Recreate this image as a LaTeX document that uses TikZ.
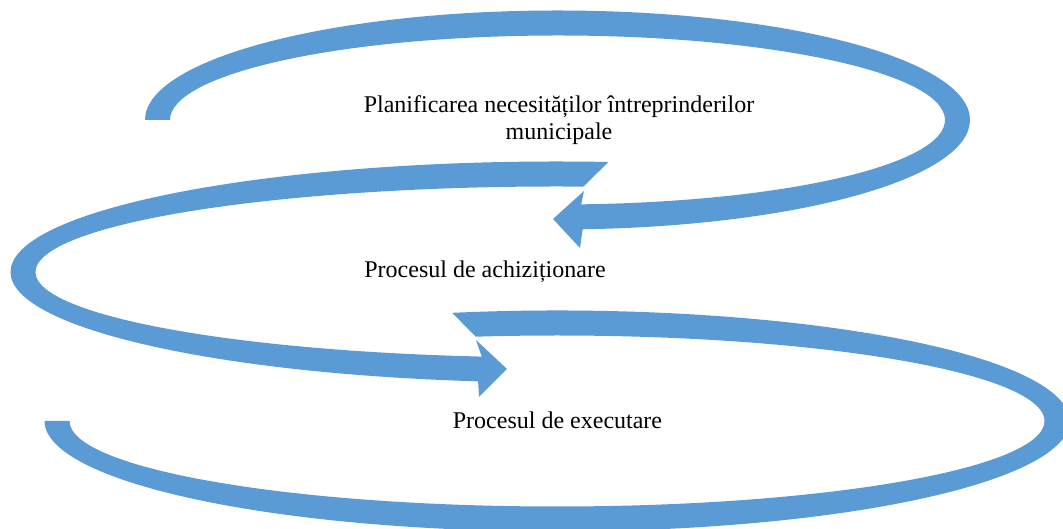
\documentclass[tikz,border=0pt]{standalone}
\usepackage{fontspec}
\setmainfont{Liberation Serif}
\definecolor{arrowblue}{RGB}{91,155,213}
\begin{document}
\begin{tikzpicture}[x=1pt,y=1pt,
  band/.style={fill=arrowblue, draw=none},
  txt/.style={inner sep=0pt, font=\fontsize{24}{27}\selectfont, align=center, text=black}]
\useasboundingbox (0,0) rectangle (1063,529);
\clip (0,0) rectangle (1063,529);
\coordinate (c1) at (557.5,409);
\coordinate (c2) at (557,257);
\coordinate (c3) at (557,108);
% arrow 1 (top)
\begin{scope}[shift={(c1)}]
\fill[band] (180:412.5 and 109.5) arc[start angle=180, end angle=-86.5, x radius=412.5, y radius=109.5]
  -- (22.5,-128) -- (-4.5,-99) -- (26.5,-71)
  -- (-86.5:387.5 and 84.5) arc[start angle=-86.5, end angle=180, x radius=387.5, y radius=84.5] -- cycle;
\end{scope}
% arrow 2 (middle)
\begin{scope}[shift={(c2)}]
\fill[band] (84.6:546.5 and 110.5) arc[start angle=84.6, end angle=261.7, x radius=546.5, y radius=110.5]
  -- (-78,-125) -- (-50,-97) -- (-81,-68)
  -- (261.7:521.5 and 85.5) arc[start angle=261.7, end angle=87.1, x radius=521.5, y radius=85.5] -- cycle;
\end{scope}
% arrow 3 (bottom)
\begin{scope}[shift={(c3)}]
\fill[band] (101.8:512.5 and 110.5) arc[start angle=101.8, end angle=-180, x radius=512.5, y radius=110.5]
  -- (180:487.5 and 85.5) arc[start angle=-180, end angle=99.6, x radius=487.5, y radius=85.5] -- cycle;
\end{scope}
\node[txt, anchor=base] (plan) at (559,389) {Planificarea necesităților întreprinderilor\\municipale};
\node[txt, anchor=base] (achiz) at (485,251) {Procesul de achiziționare};
\node[txt, anchor=base] (exec) at (557.5,100) {Procesul de executare};
\end{tikzpicture}
\end{document}
